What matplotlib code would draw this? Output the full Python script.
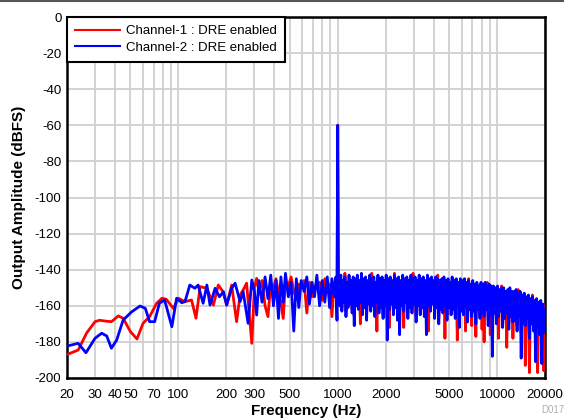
import numpy as np
import matplotlib
matplotlib.use('Agg')
import matplotlib.pyplot as plt
from matplotlib.ticker import FixedLocator, NullFormatter
from matplotlib.lines import Line2D

plt.rcParams['font.family'] = ['Liberation Sans', 'DejaVu Sans']
plt.rcParams['axes.unicode_minus'] = False

# low end, traced per channel (Hz, dBFS)
low_f1 = [20, 23.5, 26.6, 30, 32, 35, 38, 42, 45, 50, 55, 60, 66, 73, 79, 84, 93, 100,
          110, 121, 129, 137, 151, 166, 178, 190, 201, 216, 232, 244, 256, 268, 289, 300, 310]
low_ch1 = [-187, -184.5, -175, -168.8, -168, -168.5, -168.8, -165.6, -166.9, -174.3, -178.4,
           -169.7, -166, -158.6, -155.8, -156.4, -161.4, -155.8, -157.7, -156.8, -166.9, -149.4,
           -150.3, -159.6, -148.5, -152, -159.6, -148.5, -168.8, -154, -151, -147.5, -180.8, -150, -144.8]

low_f2 = [20, 23.5, 26.3, 30, 33, 35.5, 38, 41, 45, 51, 57.5, 62, 66, 71, 76, 82, 91, 97.5,
          105, 110, 118, 127, 133, 143, 151, 158, 170, 181, 192, 201, 216, 227, 244, 255, 274, 289, 300, 310]
low_ch2 = [-182.3, -180.8, -186, -178, -175.2, -176.7, -183.5, -179, -167.9, -163.3, -160.1,
           -161.4, -168.8, -168.8, -158.6, -156.8, -171.6, -155.8, -158.3, -157.7, -148.5, -150.3,
           -148.5, -158.6, -148.5, -159.6, -150.3, -155, -152.2, -159.6, -150.3, -147.5, -157.7,
           -152.2, -169.7, -145.7, -152, -165.1]

# 300 Hz .. 1 kHz, shared bins (tone at 1 kHz)
mid_f = [320, 335, 350, 365, 380, 395, 410, 425, 440, 455, 470, 490, 510, 530, 550, 570, 590,
         615, 640, 665, 690, 715, 740, 770, 800, 830, 860, 890, 920, 950, 975, 990, 1000, 1010]
mid_ch1 = [-152, -146, -160, -166, -148, -150, -145, -153, -158, -167, -147, -149, -144, -152,
           -156, -148, -150, -146, -164, -147, -155, -149, -150, -147, -157, -145, -152, -148,
           -166, -147, -152, -155, -60, -149]
mid_ch2 = [-146, -158, -144, -156, -143, -160, -146, -167, -144, -158, -142, -155, -147, -174,
           -145, -161, -146, -152, -144, -159, -147, -155, -143, -160, -146, -158, -144, -161,
           -145, -155, -144, -168, -60, -150]

# 1 kHz .. 20 kHz, shared bins
high_f = [1015, 1030, 1046, 1062, 1078, 1094, 1110, 1127, 1144, 1161,
          1178, 1196, 1214, 1232, 1251, 1270, 1289, 1308, 1328, 1348,
          1368, 1388, 1409, 1430, 1452, 1474, 1496, 1518, 1541, 1564,
          1588, 1612, 1636, 1660, 1685, 1711, 1736, 1762, 1789, 1816,
          1843, 1871, 1899, 1927, 1956, 1986, 2015, 2046, 2076, 2107,
          2139, 2171, 2204, 2237, 2270, 2304, 2339, 2374, 2410, 2446,
          2483, 2520, 2558, 2596, 2635, 2675, 2715, 2756, 2797, 2839,
          2882, 2925, 2969, 3013, 3059, 3104, 3151, 3198, 3246, 3295,
          3344, 3395, 3445, 3497, 3550, 3603, 3657, 3712, 3767, 3824,
          3881, 3939, 3999, 4059, 4119, 4181, 4244, 4308, 4372, 4438,
          4504, 4572, 4640, 4710, 4781, 4852, 4925, 4999, 5074, 5150,
          5227, 5305, 5385, 5466, 5548, 5631, 5715, 5801, 5888, 5977,
          6066, 6157, 6250, 6343, 6438, 6535, 6633, 6733, 6834, 6936,
          7040, 7146, 7253, 7362, 7472, 7584, 7698, 7814, 7931, 8050,
          8171, 8293, 8418, 8544, 8672, 8802, 8934, 9068, 9204, 9342,
          9483, 9625, 9769, 9916, 10065, 10216, 10369, 10524, 10682, 10842,
          11005, 11170, 11338, 11508, 11680, 11856, 12033, 12214, 12397, 12583,
          12772, 12964, 13158, 13355, 13556, 13759, 13965, 14175, 14387, 14603,
          14822, 15045, 15270, 15499, 15732, 15968, 16207, 16450, 16697, 16947,
          17202, 17460, 17722, 17987, 18257, 18531, 18809, 19091, 19377, 19668,
          20000]
high_ch1 = [-147, -158, -146, -161, -148, -157, -142, -163, -149, -159,
            -146, -157, -148, -162, -146, -166, -147, -158, -145, -161,
            -148, -170, -145, -163, -147, -159, -146, -165, -148, -157,
            -146, -161, -142, -158, -146, -164, -149, -174, -145, -162,
            -147, -159, -146, -165, -148, -158, -145, -166, -147, -172,
            -146, -157, -148, -163, -142, -159, -147, -165, -146, -164,
            -148, -158, -145, -172, -147, -157, -146, -164, -148, -159,
            -145, -162, -142, -157, -146, -166, -148, -158, -145, -163,
            -147, -159, -146, -163, -148, -165, -145, -174, -147, -160,
            -146, -157, -148, -164, -146, -159, -143, -167, -148, -160,
            -147, -162, -146, -178, -148, -165, -147, -159, -149, -162,
            -146, -160, -148, -165, -147, -179, -149, -168, -147, -161,
            -148, -163, -147, -174, -149, -166, -145, -160, -150, -171,
            -148, -161, -150, -177, -149, -160, -151, -165, -149, -173,
            -150, -180, -149, -160, -147, -168, -150, -176, -151, -170,
            -151, -162, -152, -167, -151, -178, -153, -161, -149, -170,
            -152, -165, -154, -183, -153, -170, -152, -164, -154, -178,
            -154, -166, -153, -171, -151, -164, -154, -175, -156, -168,
            -155, -193, -157, -165, -156, -197, -158, -168, -154, -172,
            -159, -174, -158, -197, -160, -173, -159, -186, -161, -196,
            -160]
high_ch2 = [-145, -160, -143, -163, -146, -158, -144, -166, -147, -161,
            -143, -159, -146, -164, -144, -171, -145, -160, -143, -162,
            -146, -158, -142, -165, -145, -161, -144, -168, -146, -159,
            -143, -163, -145, -160, -144, -166, -147, -158, -143, -164,
            -145, -161, -144, -167, -146, -160, -143, -179, -145, -162,
            -144, -159, -146, -165, -143, -161, -145, -168, -144, -176,
            -146, -160, -143, -163, -145, -158, -144, -167, -146, -161,
            -143, -164, -145, -159, -144, -169, -146, -160, -143, -165,
            -145, -161, -144, -166, -146, -176, -143, -160, -145, -163,
            -144, -159, -146, -167, -144, -161, -145, -170, -146, -162,
            -145, -164, -144, -160, -146, -168, -145, -161, -147, -165,
            -144, -162, -146, -167, -145, -160, -147, -172, -145, -163,
            -146, -165, -145, -161, -147, -169, -146, -162, -148, -166,
            -146, -163, -148, -170, -147, -162, -149, -167, -147, -164,
            -148, -166, -147, -162, -149, -171, -148, -165, -149, -188,
            -149, -164, -150, -170, -149, -166, -151, -163, -150, -172,
            -150, -167, -152, -164, -151, -173, -150, -166, -152, -169,
            -152, -168, -151, -174, -153, -166, -152, -189, -154, -170,
            -153, -171, -155, -167, -154, -178, -156, -170, -155, -174,
            -157, -191, -156, -172, -158, -176, -157, -192, -159, -175,
            -162]

xticks = [20, 30, 40, 50, 70, 100, 200, 300, 500, 1000, 2000, 5000, 10000, 20000]
yticks = list(range(-200, 1, 20))

f1 = low_f1 + mid_f + high_f
ch1 = low_ch1 + mid_ch1 + high_ch1
f2 = low_f2 + mid_f + high_f
ch2 = low_ch2 + mid_ch2 + high_ch2

fig = plt.figure(figsize=(5.64, 4.18), dpi=100)
ax = fig.add_axes([67 / 564, 40 / 418, 478 / 564, 361 / 418])

ax.plot(f1, ch1, color='#ff0000', lw=2.0, label='Channel-1 : DRE enabled', zorder=3)
ax.plot(f2, ch2, color='#0000ff', lw=2.0, label='Channel-2 : DRE enabled', zorder=4)

ax.set_xscale('log')
ax.set_xlim(20, 20000)
ax.set_ylim(-200, 0)
ax.xaxis.set_major_locator(FixedLocator(xticks))
ax.set_xticklabels([str(t) for t in xticks])
minors = [m * 10 ** e for e in range(1, 5) for m in range(1, 10) if 20 <= m * 10 ** e <= 20000]
ax.xaxis.set_minor_locator(FixedLocator(minors))
ax.xaxis.set_minor_formatter(NullFormatter())
ax.set_yticks(yticks)

ax.grid(which='both', axis='x', color='#d0d0d0', lw=1.3, zorder=0)
ax.grid(which='major', axis='y', color='#d0d0d0', lw=1.3, zorder=0)
ax.set_axisbelow(True)
ax.tick_params(which='both', length=0, labelsize=9.5)
ax.tick_params(axis='x', pad=8)
ax.tick_params(axis='y', pad=4)
for s in ax.spines.values():
    s.set_linewidth(1.8)
    s.set_color('black')

ax.set_xlabel('Frequency (Hz)', fontsize=11, fontweight='bold', labelpad=2)
ax.set_ylabel('Output Amplitude (dBFS)', fontsize=11, fontweight='bold', labelpad=6)

leg = ax.legend(loc='upper left', borderaxespad=0, fancybox=False, edgecolor='black',
                framealpha=1, fontsize=9.5, handlelength=3.4, handletextpad=0.5,
                borderpad=0.6, labelspacing=0.35)
leg.get_frame().set_linewidth(1.5)
for h in leg.get_lines():
    h.set_linewidth(1.5)

fig.add_artist(Line2D([0, 1], [0.998, 0.998], color='#555555', lw=1.5))
fig.text(541 / 564, 3 / 418, 'D017', fontsize=7, color='#b0b0b0', ha='left', va='bottom')

fig.savefig('out.png', dpi=100)
